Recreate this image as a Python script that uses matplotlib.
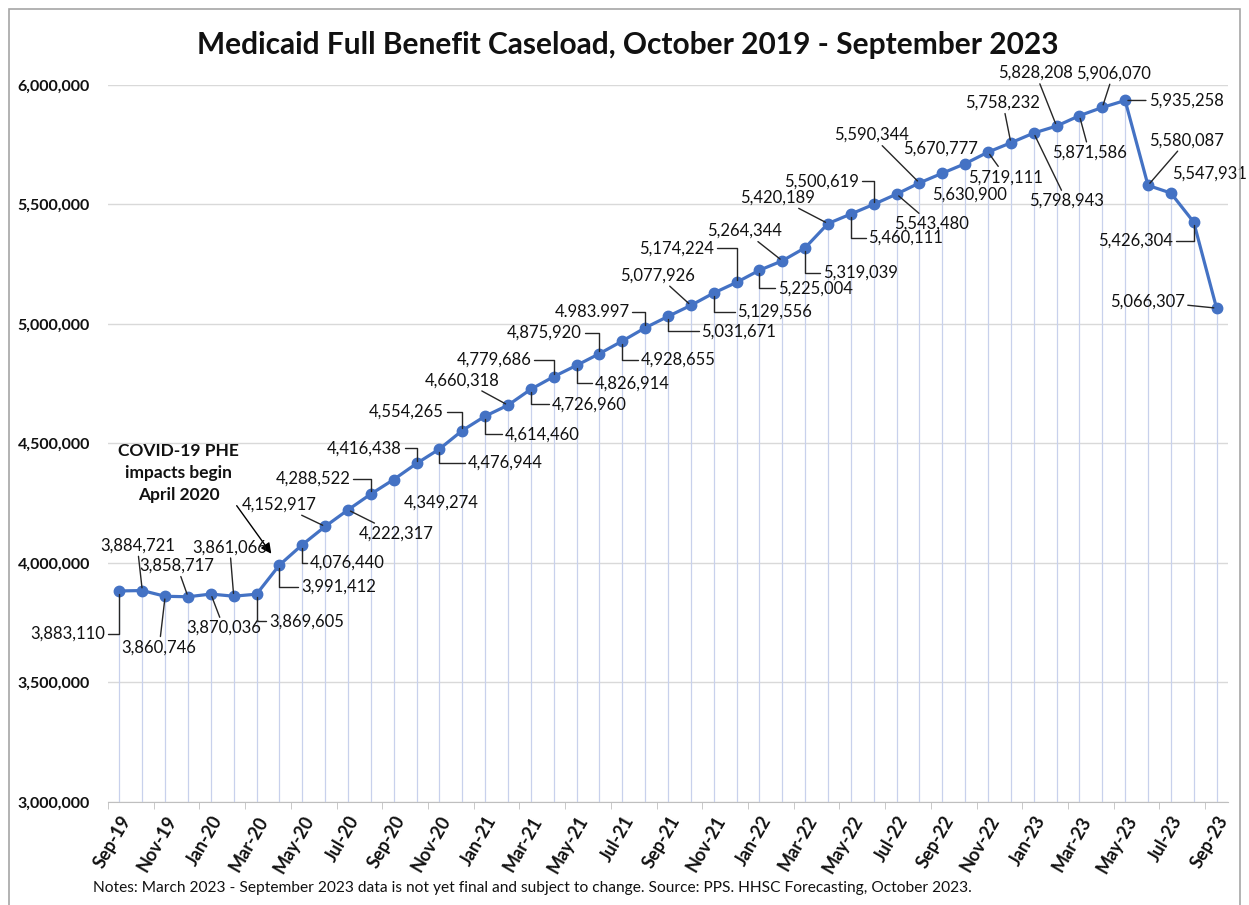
import numpy as np
import matplotlib.pyplot as plt
from matplotlib.patches import Rectangle
from matplotlib.ticker import FuncFormatter

plt.rcParams['font.family'] = ['Lato', 'DejaVu Sans']

# monthly caseload, Sep-19 .. Sep-23
caseload = [3883110, 3884721, 3860746, 3858717, 3870036, 3861066, 3869605,
            3991412, 4076440, 4152917, 4222317, 4288522, 4349274, 4416438,
            4476944, 4554265, 4614460, 4660318, 4726960, 4779686, 4826914,
            4875920, 4928655, 4983997, 5031671, 5077926, 5129556, 5174224,
            5225004, 5264344, 5319039, 5420189, 5460111, 5500619, 5543480,
            5590344, 5630900, 5670777, 5719111, 5758232, 5798943, 5828208,
            5871586, 5906070, 5935258, 5580087, 5547931, 5426304, 5066307]

# the chart prints one label as 4.983.997
label_text = ['{:,}'.format(v) for v in caseload]
label_text[23] = '4.983.997'

tick_labels = ['Sep-19', 'Nov-19', 'Jan-20', 'Mar-20', 'May-20', 'Jul-20',
               'Sep-20', 'Nov-20', 'Jan-21', 'Mar-21', 'May-21', 'Jul-21',
               'Sep-21', 'Nov-21', 'Jan-22', 'Mar-22', 'May-22', 'Jul-22',
               'Sep-22', 'Nov-22', 'Jan-23', 'Mar-23', 'May-23', 'Jul-23',
               'Sep-23']

# label offsets in pixels (dx, dy) and leader type: e=elbow, s=straight, n=none
offsets = [(-52, -43), (-5, 45), (-6, -51), (-11, 31), (13, -34), (-4, 49),
           (50, -27), (59, -22), (45, -18), (-46, 22), (48, -24), (-58, 15),
           (47, -23), (-52, 15), (66, -14), (-56, 19), (57, -18), (-46, 25),
           (58, -15), (-60, 17), (56, -18), (-55, 21), (56, -19), (-53, 16),
           (71, -15), (-33, 30), (61, -19), (-60, 34), (56, -18), (-38, 30),
           (55, -25), (-50, 26), (55, -24), (-52, 23), (35, -30), (-48, 48),
           (27, -21), (-25, 15), (18, -25), (-8, 40), (33, -68), (-21, 53),
           (10, -37), (11, 34), (61, 0), (39, 45), (39, 19), (-58, -19),
           (-69, 7)]
leaders = ('essssse' 'eessene' 'eeeseee' 'eeeesee' 'esesees' 'snnssss'
           'ssssnes')

blue = '#4472C4'
x = np.arange(len(caseload))

fig = plt.figure(figsize=(12.49, 9.05), dpi=100)
ax = fig.add_axes([108 / 1249, 1 - 802 / 905, 1120 / 1249, 717 / 905])

ax.vlines(x, 3000000, caseload, color='#c8d1ec', lw=0.9, zorder=1)
ax.plot(x, caseload, color=blue, lw=2.3, marker='o', ms=7.5, zorder=3,
        clip_on=False)

for i, v in enumerate(caseload):
    dx, dy = offsets[i]
    kind = leaders[i]
    if kind == 'n':
        ap = None
    elif kind == 'e':
        ap = dict(arrowstyle='-', color='#262626', lw=1, shrinkA=0, shrinkB=2,
                  relpos=(0, 0.5) if dx > 0 else (1, 0.5),
                  connectionstyle='angle,angleA=0,angleB=90,rad=0')
    else:
        ap = dict(arrowstyle='-', color='#262626', lw=1, shrinkA=0, shrinkB=2)
    ax.annotate(label_text[i], (i, v), xytext=(dx, dy),
                textcoords='offset pixels', ha='center', va='center',
                fontsize=12, color='#111111', arrowprops=ap, zorder=4,
                annotation_clip=False)

ax.annotate('COVID-19 PHE\nimpacts begin\nApril 2020', (7, caseload[7]),
            xytext=(177 - 278, 565 - 473), textcoords='offset pixels',
            ha='center', va='center', fontsize=12.5, weight='bold',
            linespacing=1.45, color='#111111',
            arrowprops=dict(arrowstyle='-|>,head_length=0.5,head_width=0.25',
                            color='black', lw=1, shrinkA=0, shrinkB=10,
                            relpos=(0.93, 0.1)))

ax.set_xlim(-0.5, len(caseload) - 0.5)
ax.set_ylim(3000000, 6000000)
ax.set_yticks(np.arange(3000000, 6000001, 500000))
ax.yaxis.set_major_formatter(FuncFormatter(lambda v, p: '{:,.0f}'.format(v)))
ax.grid(axis='y', color='#d9d9d9', lw=1)
ax.set_axisbelow(True)

ax.set_xticks(x[::2])
ax.set_xticklabels(tick_labels, rotation=60, ha='right', va='top',
                   rotation_mode='anchor', fontsize=13, weight='bold',
                   color='#111111')
ax.set_xticks(np.arange(-0.5, len(caseload), 2), minor=True)
ax.tick_params(axis='x', which='major', length=0, pad=8)
ax.tick_params(axis='x', which='minor', length=5, color='#bfbfbf')
ax.tick_params(axis='y', length=0, pad=13, labelsize=11.5, labelcolor='#111111')
for t in ax.get_yticklabels():
    t.set_weight('bold')

for s in ['top', 'right', 'left']:
    ax.spines[s].set_visible(False)
ax.spines['bottom'].set_color('#bfbfbf')

fig.text(628 / 1249, 1 - 45 / 905,
         'Medicaid Full Benefit Caseload, October 2019 - September 2023',
         ha='center', va='center', fontsize=21.5, weight='bold', color='#111111')
fig.text(93 / 1249, 1 - 888 / 905,
         'Notes: March 2023 - September 2023 data is not yet final and subject '
         'to change. Source: PPS. HHSC Forecasting, October 2023.',
         ha='left', va='center', fontsize=11.2, color='#111111')

fig.patches.append(Rectangle((9 / 1249, -0.01), 1231 / 1249, 1 - 9 / 905 + 0.01,
                             transform=fig.transFigure, fill=False,
                             edgecolor='#a6a6a6', lw=1.2))

fig.savefig('out.png', dpi=100)
